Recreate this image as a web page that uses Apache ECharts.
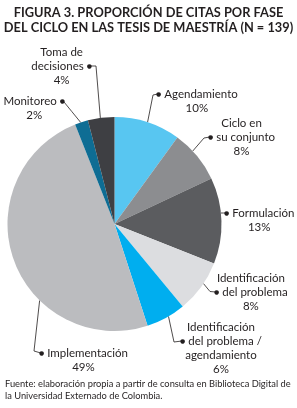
<!DOCTYPE html>
<html><head><meta charset="utf-8">
<script src="https://cdn.jsdelivr.net/npm/echarts@6/dist/echarts.min.js"></script>
<style>html,body{margin:0;padding:0;background:#fff}#c{width:297px;height:408px}</style>
</head><body><div id="c"></div>
<script>
// ---- data ----
const titleLines = ['FIGURA 3. PROPORCIÓN DE CITAS POR FASE', 'DEL CICLO EN LAS TESIS DE MAESTRÍA (N = 139)'];
const sourceLines = ['Fuente: elaboración propia a partir de consulta en Biblioteca Digital de', 'la Universidad Externado de Colombia.'];
const categories = ['Agendamiento', 'Ciclo en\nsu conjunto', 'Formulación', 'Identificación\ndel problema',
  'Identificación\ndel problema /\nagendamiento', 'Implementación', 'Monitoreo', 'Toma de\ndecisiones'];
const percentages = [10, 8, 13, 8, 6, 49, 2, 4];
const colors = ['#58c6f1', '#8c8d90', '#5b5c5f', '#dcdde0', '#00aeef', '#bbbcbf', '#0e6d94', '#3e3f43'];

// ---- layout ----
const PIE = { cx: 114.5, cy: 224, r: 107 };
const LH = 14;
const DOT_HALF = 1.8;
const INK = '#231f20';
const labelPlacement = [
  { x: 156, top: 87, side: 'left', dotLine: 0, elbow: [153, 95], angle: 72 },
  { x: 208, top: 116, side: 'left', dotLine: 1, elbow: [204, 138], angle: 43 },
  { x: 224, top: 206, side: 'left', dotLine: 0, elbow: null, angle: 5.9 },
  { x: 214, top: 271, side: 'left', dotLine: 1, elbow: [210, 291.5], angle: -33.8 },
  { x: 180, top: 320, side: 'left', dotLine: 1, elbow: [174, 342], angle: -59.7 },
  { x: 39, top: 346, side: 'left', dotLine: 0, elbow: [34, 351], angle: -134.4 },
  { x: 65, top: 94, side: 'right', dotLine: 0, elbow: null, angle: 108.4 },
  { x: 92, top: 45, side: 'right', dotLine: 1, elbow: [96, 66], angle: 97.6 }
];

const txt = { fontFamily: 'Lato', fontSize: 11.5, lineHeight: LH, color: INK };
const dot = { fontFamily: 'DejaVu Sans', fontSize: 6, lineHeight: LH, color: INK };

const chart = echarts.init(document.getElementById('c'), null, { renderer: 'canvas' });
chart.setOption({
  animation: false,
  backgroundColor: '#fff',
  title: [
    { text: titleLines.join('\n'), left: 'center', top: 5, padding: 0,
      textStyle: { fontFamily: 'Lato', fontWeight: 'bold', fontSize: 12.8, lineHeight: 15, color: INK } },
    { text: sourceLines.join('\n'), left: 5, top: 378, padding: 0,
      textStyle: { fontFamily: 'Lato', fontWeight: 'normal', fontSize: 9.3, lineHeight: 12, color: INK } }
  ],
  series: [{
    type: 'pie',
    center: [PIE.cx, PIE.cy],
    radius: PIE.r,
    startAngle: 90,
    clockwise: true,
    avoidLabelOverlap: false,
    minShowLabelAngle: 0,
    emphasis: { disabled: true },
    data: categories.map((c, i) => ({ name: c, value: percentages[i], itemStyle: { color: colors[i] } })),
    label: {
      show: true,
      position: 'outside',
      formatter: function (params) {
        const p = labelPlacement[params.dataIndex];
        const lines = params.name.split('\n').concat([params.value + '%']);
        return lines.map(function (s, i) {
          if (i === p.dotLine) {
            return p.side === 'left' ? '{dL|●}{tL|' + s + '}' : '{tR|' + s + '}{dR|●}';
          }
          return '{tC|' + s + '}';
        }).join('\n');
      },
      rich: {
        tC: Object.assign({ align: 'center' }, txt),
        tL: Object.assign({ align: 'left' }, txt),
        tR: Object.assign({ align: 'right' }, txt),
        dL: Object.assign({ align: 'left', padding: [0, 3, 0, 0] }, dot),
        dR: Object.assign({ align: 'right', padding: [0, 0, 0, 3] }, dot)
      }
    },
    labelLine: { show: true, length: 5, length2: 5, lineStyle: { color: INK, width: 0.8 } },
    labelLayout: function (params) {
      const p = labelPlacement[params.dataIndex];
      const a = p.angle * Math.PI / 180;
      const start = [PIE.cx + PIE.r * Math.cos(a), PIE.cy - PIE.r * Math.sin(a)];
      const end = [p.side === 'left' ? p.x + DOT_HALF : p.x - DOT_HALF, p.top + (p.dotLine + 0.5) * LH];
      const elbow = p.elbow || [(start[0] + end[0]) / 2, (start[1] + end[1]) / 2];
      return { x: p.x, y: p.top, align: p.side, verticalAlign: 'top', labelLinePoints: [start, elbow, end] };
    }
  }]
});
</script>
</body></html>
